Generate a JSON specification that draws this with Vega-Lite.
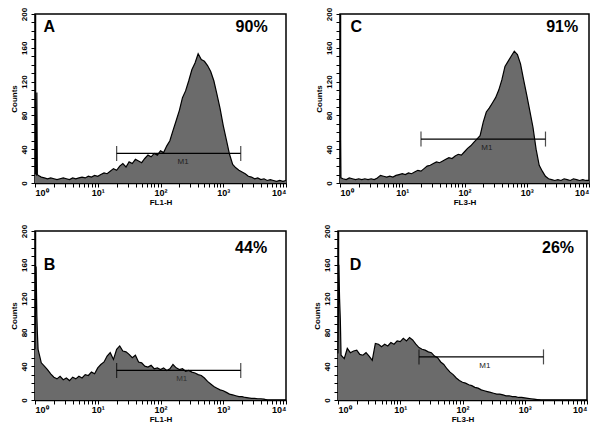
{
"$schema":"https://vega.github.io/schema/vega-lite/v6.json",
"background":"white",
"padding":{"left":9,"top":6,"right":5,"bottom":3},
"datasets":{
"A":[{"fl":1,"count":12},{"fl":1.05,"count":10},{"fl":1.07,"count":107},{"fl":1.09,"count":10},{"fl":1.12,"count":9},{"fl":1.26,"count":7},{"fl":1.41,"count":6},{"fl":1.58,"count":5},{"fl":1.78,"count":6},{"fl":2,"count":5},{"fl":2.24,"count":4},{"fl":2.51,"count":5},{"fl":2.82,"count":6},{"fl":3.16,"count":5},{"fl":3.55,"count":4},{"fl":3.98,"count":6},{"fl":4.47,"count":5},{"fl":5.01,"count":6},{"fl":5.62,"count":7},{"fl":6.31,"count":6},{"fl":7.08,"count":8},{"fl":7.94,"count":7},{"fl":8.91,"count":9},
{"fl":10,"count":8},{"fl":11.2,"count":10},{"fl":12.6,"count":12},{"fl":14.1,"count":11},{"fl":15.8,"count":14},{"fl":17.8,"count":17},{"fl":20,"count":15},{"fl":22.4,"count":20},{"fl":25.1,"count":23},{"fl":28.2,"count":19},{"fl":31.6,"count":25},{"fl":35.5,"count":23},{"fl":39.8,"count":28},{"fl":44.7,"count":26},{"fl":50.1,"count":24},{"fl":56.2,"count":29},{"fl":63.1,"count":33},{"fl":70.8,"count":31},{"fl":79.4,"count":35},{"fl":89.1,"count":33},
{"fl":100,"count":38},{"fl":112,"count":36},{"fl":126,"count":44},{"fl":141,"count":50},{"fl":158,"count":62},{"fl":178,"count":74},{"fl":200,"count":86},{"fl":224,"count":101},{"fl":251,"count":109},{"fl":282,"count":121},{"fl":316,"count":134},{"fl":355,"count":142},{"fl":398,"count":153},{"fl":447,"count":146},{"fl":501,"count":144},{"fl":562,"count":139},{"fl":631,"count":132},{"fl":708,"count":121},{"fl":794,"count":105},{"fl":891,"count":88},
{"fl":1000,"count":68},{"fl":1122,"count":51},{"fl":1259,"count":34},{"fl":1413,"count":22},{"fl":1585,"count":18},{"fl":1778,"count":15},{"fl":1995,"count":13},{"fl":2239,"count":11},{"fl":2512,"count":8},{"fl":2818,"count":7},{"fl":3162,"count":5},{"fl":3548,"count":6},{"fl":3981,"count":4},{"fl":4467,"count":5},{"fl":5012,"count":3},{"fl":5623,"count":4},{"fl":6310,"count":3},{"fl":7079,"count":2},{"fl":7943,"count":3},{"fl":8913,"count":2},{"fl":10000,"count":3}],
"C":[{"fl":1,"count":104},{"fl":1.03,"count":6},{"fl":1.12,"count":5},{"fl":1.26,"count":4},{"fl":1.41,"count":6},{"fl":1.58,"count":5},{"fl":1.78,"count":4},{"fl":2,"count":5},{"fl":2.24,"count":4},{"fl":2.51,"count":5},{"fl":2.82,"count":4},{"fl":3.16,"count":5},{"fl":3.55,"count":4},{"fl":3.98,"count":6},{"fl":4.47,"count":9},{"fl":5.01,"count":8},{"fl":5.62,"count":7},{"fl":6.31,"count":8},{"fl":7.08,"count":7},{"fl":7.94,"count":9},{"fl":8.91,"count":10},
{"fl":10,"count":11},{"fl":11.2,"count":10},{"fl":12.6,"count":12},{"fl":14.1,"count":11},{"fl":15.8,"count":13},{"fl":17.8,"count":15},{"fl":20,"count":14},{"fl":22.4,"count":17},{"fl":25.1,"count":20},{"fl":28.2,"count":21},{"fl":31.6,"count":23},{"fl":35.5,"count":25},{"fl":39.8,"count":24},{"fl":44.7,"count":26},{"fl":50.1,"count":28},{"fl":56.2,"count":30},{"fl":63.1,"count":29},{"fl":70.8,"count":32},{"fl":79.4,"count":34},{"fl":89.1,"count":33},
{"fl":100,"count":37},{"fl":112,"count":41},{"fl":126,"count":44},{"fl":141,"count":48},{"fl":158,"count":52},{"fl":178,"count":56},{"fl":200,"count":72},{"fl":224,"count":84},{"fl":251,"count":89},{"fl":282,"count":95},{"fl":316,"count":101},{"fl":355,"count":110},{"fl":398,"count":122},{"fl":447,"count":138},{"fl":501,"count":144},{"fl":562,"count":150},{"fl":631,"count":156},{"fl":708,"count":152},{"fl":794,"count":141},{"fl":891,"count":122},
{"fl":1000,"count":104},{"fl":1122,"count":85},{"fl":1259,"count":66},{"fl":1413,"count":40},{"fl":1585,"count":21},{"fl":1778,"count":14},{"fl":1995,"count":8},{"fl":2239,"count":5},{"fl":2512,"count":4},{"fl":2818,"count":3},{"fl":3162,"count":4},{"fl":3548,"count":3},{"fl":3981,"count":5},{"fl":4467,"count":4},{"fl":5012,"count":3},{"fl":5623,"count":5},{"fl":6310,"count":4},{"fl":7079,"count":3},{"fl":7943,"count":4},{"fl":8913,"count":3},{"fl":10000,"count":3}],
"B":[{"fl":1,"count":60},{"fl":1.04,"count":158},{"fl":1.07,"count":100},{"fl":1.09,"count":80},{"fl":1.12,"count":60},{"fl":1.26,"count":44},{"fl":1.41,"count":40},{"fl":1.58,"count":36},{"fl":1.78,"count":31},{"fl":2,"count":27},{"fl":2.24,"count":25},{"fl":2.51,"count":28},{"fl":2.82,"count":24},{"fl":3.16,"count":26},{"fl":3.55,"count":23},{"fl":3.98,"count":27},{"fl":4.47,"count":25},{"fl":5.01,"count":28},{"fl":5.62,"count":26},{"fl":6.31,"count":30},{"fl":7.08,"count":29},{"fl":7.94,"count":33},{"fl":8.91,"count":31},
{"fl":10,"count":38},{"fl":11.2,"count":42},{"fl":12.6,"count":45},{"fl":14.1,"count":52},{"fl":15.8,"count":56},{"fl":17.8,"count":48},{"fl":20,"count":60},{"fl":22.4,"count":64},{"fl":25.1,"count":58},{"fl":28.2,"count":57},{"fl":31.6,"count":54},{"fl":35.5,"count":50},{"fl":39.8,"count":53},{"fl":44.7,"count":45},{"fl":50.1,"count":44},{"fl":56.2,"count":40},{"fl":63.1,"count":39},{"fl":70.8,"count":41},{"fl":79.4,"count":37},{"fl":89.1,"count":38},
{"fl":100,"count":36},{"fl":112,"count":38},{"fl":126,"count":35},{"fl":141,"count":37},{"fl":158,"count":42},{"fl":178,"count":38},{"fl":200,"count":36},{"fl":224,"count":37},{"fl":251,"count":34},{"fl":282,"count":35},{"fl":316,"count":33},{"fl":355,"count":32},{"fl":398,"count":30},{"fl":447,"count":29},{"fl":501,"count":26},{"fl":562,"count":22},{"fl":631,"count":19},{"fl":708,"count":16},{"fl":794,"count":14},{"fl":891,"count":12},
{"fl":1000,"count":11},{"fl":1122,"count":9},{"fl":1259,"count":7},{"fl":1413,"count":6},{"fl":1585,"count":5},{"fl":1778,"count":4},{"fl":1995,"count":4},{"fl":2239,"count":3},{"fl":2512,"count":2.5},{"fl":2818,"count":2},{"fl":3162,"count":2},{"fl":3548,"count":1.5},{"fl":3981,"count":1.5},{"fl":4467,"count":1},{"fl":5012,"count":0}],
"D":[{"fl":1,"count":55},{"fl":1.03,"count":160},{"fl":1.06,"count":120},{"fl":1.09,"count":95},{"fl":1.12,"count":53},{"fl":1.26,"count":49},{"fl":1.41,"count":61},{"fl":1.58,"count":56},{"fl":1.78,"count":58},{"fl":2,"count":59},{"fl":2.24,"count":54},{"fl":2.51,"count":53},{"fl":2.82,"count":56},{"fl":3.16,"count":52},{"fl":3.55,"count":47},{"fl":3.98,"count":67},{"fl":4.47,"count":66},{"fl":5.01,"count":63},{"fl":5.62,"count":66},{"fl":6.31,"count":64},{"fl":7.08,"count":68},{"fl":7.94,"count":66},{"fl":8.91,"count":70},
{"fl":10,"count":69},{"fl":11.2,"count":73},{"fl":12.6,"count":70},{"fl":14.1,"count":74},{"fl":15.8,"count":71},{"fl":17.8,"count":66},{"fl":20,"count":62},{"fl":22.4,"count":60},{"fl":25.1,"count":59},{"fl":28.2,"count":57},{"fl":31.6,"count":56},{"fl":35.5,"count":52},{"fl":39.8,"count":50},{"fl":44.7,"count":45},{"fl":50.1,"count":42},{"fl":56.2,"count":37},{"fl":63.1,"count":33},{"fl":70.8,"count":30},{"fl":79.4,"count":26},{"fl":89.1,"count":23},
{"fl":100,"count":21},{"fl":112,"count":20},{"fl":126,"count":18},{"fl":141,"count":17},{"fl":158,"count":15},{"fl":178,"count":14},{"fl":200,"count":12},{"fl":224,"count":11},{"fl":251,"count":10},{"fl":282,"count":9},{"fl":316,"count":8},{"fl":355,"count":7},{"fl":398,"count":7},{"fl":447,"count":6},{"fl":501,"count":5},{"fl":562,"count":5},{"fl":631,"count":4},{"fl":708,"count":4},{"fl":794,"count":3},{"fl":891,"count":3},
{"fl":1000,"count":2.5},{"fl":1122,"count":2},{"fl":1259,"count":1.5},{"fl":1413,"count":1},{"fl":1585,"count":0.5},{"fl":1778,"count":0}]
},
"vconcat":[
{"hconcat":[
{"width":251,"height":169,"data":{"name":"A"},"layer":[
 {"mark":{"type":"area","color":"#6b6b6b","opacity":1,"line":{"color":"black","strokeWidth":1.2}},
  "encoding":{"x":{"field":"fl","type":"quantitative","scale":{"type":"log","domain":[1,10000],"nice":false},"axis":{"title":"FL1-H","tickCount":100,"values":[1,2,3,4,5,6,7,8,9,10,20,30,40,50,60,70,80,90,100,200,300,400,500,600,700,800,900,1000,2000,3000,4000,5000,6000,7000,8000,9000,10000],"labelExpr":"datum.value == 1 ? '10⁰' : datum.value == 10 ? '10¹' : datum.value == 100 ? '10²' : datum.value == 1000 ? '10³' : datum.value == 10000 ? '10⁴' : ''"}},
   "y":{"field":"count","type":"quantitative","scale":{"domain":[0,200],"nice":false},"axis":{"title":"Counts","tickCount":100,"values":[0,10,20,30,40,50,60,70,80,90,100,110,120,130,140,150,160,170,180,190,200],"labelExpr":"datum.value % 40 == 0 ? datum.label : ''"}}}},
 {"data":{"values":[{"fl":20,"count":35},{"fl":1900,"count":35}]},"mark":{"type":"line","color":"black","strokeWidth":1.2},"encoding":{"x":{"field":"fl","type":"quantitative"},"y":{"field":"count","type":"quantitative"}}},
 {"data":{"values":[{"fl":20,"count":35},{"fl":1900,"count":35}]},"mark":{"type":"tick","orient":"vertical","size":15,"thickness":1.2,"color":"black"},"encoding":{"x":{"field":"fl","type":"quantitative"},"y":{"field":"count","type":"quantitative"}}},
 {"data":{"values":[{}]},"mark":{"type":"text","text":"M1","fontSize":8,"font":"Liberation Sans","color":"#222","baseline":"top"},"encoding":{"x":{"datum":229},"y":{"datum":29}}},
 {"data":{"values":[{}]},"mark":{"type":"text","text":"A","fontSize":16,"fontWeight":"bold","font":"Liberation Sans","color":"black","align":"left","baseline":"top"},"encoding":{"x":{"datum":1.37},"y":{"datum":194}}},
 {"data":{"values":[{}]},"mark":{"type":"text","text":"90%","fontSize":16,"fontWeight":"bold","font":"Liberation Sans","color":"black","align":"right","baseline":"top"},"encoding":{"x":{"datum":5100},"y":{"datum":194}}}
]},
{"width":249,"height":169,"data":{"name":"C"},"layer":[
 {"mark":{"type":"area","color":"#6b6b6b","opacity":1,"line":{"color":"black","strokeWidth":1.2}},
  "encoding":{"x":{"field":"fl","type":"quantitative","scale":{"type":"log","domain":[1,10000],"nice":false},"axis":{"title":"FL3-H","tickCount":100,"values":[1,2,3,4,5,6,7,8,9,10,20,30,40,50,60,70,80,90,100,200,300,400,500,600,700,800,900,1000,2000,3000,4000,5000,6000,7000,8000,9000,10000],"labelExpr":"datum.value == 1 ? '10⁰' : datum.value == 10 ? '10¹' : datum.value == 100 ? '10²' : datum.value == 1000 ? '10³' : datum.value == 10000 ? '10⁴' : ''"}},
   "y":{"field":"count","type":"quantitative","scale":{"domain":[0,200],"nice":false},"axis":{"title":"Counts","tickCount":100,"values":[0,10,20,30,40,50,60,70,80,90,100,110,120,130,140,150,160,170,180,190,200],"labelExpr":"datum.value % 40 == 0 ? datum.label : ''"}}}},
 {"data":{"values":[{"fl":20,"count":52},{"fl":2000,"count":52}]},"mark":{"type":"line","color":"black","strokeWidth":1.2},"encoding":{"x":{"field":"fl","type":"quantitative"},"y":{"field":"count","type":"quantitative"}}},
 {"data":{"values":[{"fl":20,"count":52},{"fl":2000,"count":52}]},"mark":{"type":"tick","orient":"vertical","size":15,"thickness":1.2,"color":"black"},"encoding":{"x":{"field":"fl","type":"quantitative"},"y":{"field":"count","type":"quantitative"}}},
 {"data":{"values":[{}]},"mark":{"type":"text","text":"M1","fontSize":8,"font":"Liberation Sans","color":"#222","baseline":"top"},"encoding":{"x":{"datum":229},"y":{"datum":46}}},
 {"data":{"values":[{}]},"mark":{"type":"text","text":"C","fontSize":16,"fontWeight":"bold","font":"Liberation Sans","color":"black","align":"left","baseline":"top"},"encoding":{"x":{"datum":1.48},"y":{"datum":194}}},
 {"data":{"values":[{}]},"mark":{"type":"text","text":"91%","fontSize":16,"fontWeight":"bold","font":"Liberation Sans","color":"black","align":"right","baseline":"top"},"encoding":{"x":{"datum":6700},"y":{"datum":194}}}
]}
],"spacing":24},
{"hconcat":[
{"width":251,"height":169,"data":{"name":"B"},"layer":[
 {"mark":{"type":"area","color":"#6b6b6b","opacity":1,"line":{"color":"black","strokeWidth":1.2}},
  "encoding":{"x":{"field":"fl","type":"quantitative","scale":{"type":"log","domain":[1,10000],"nice":false},"axis":{"title":"FL1-H","tickCount":100,"values":[1,2,3,4,5,6,7,8,9,10,20,30,40,50,60,70,80,90,100,200,300,400,500,600,700,800,900,1000,2000,3000,4000,5000,6000,7000,8000,9000,10000],"labelExpr":"datum.value == 1 ? '10⁰' : datum.value == 10 ? '10¹' : datum.value == 100 ? '10²' : datum.value == 1000 ? '10³' : datum.value == 10000 ? '10⁴' : ''"}},
   "y":{"field":"count","type":"quantitative","scale":{"domain":[0,200],"nice":false},"axis":{"title":"Counts","tickCount":100,"values":[0,10,20,30,40,50,60,70,80,90,100,110,120,130,140,150,160,170,180,190,200],"labelExpr":"datum.value % 40 == 0 ? datum.label : ''"}}}},
 {"data":{"values":[{"fl":20,"count":35},{"fl":1900,"count":35}]},"mark":{"type":"line","color":"black","strokeWidth":1.2},"encoding":{"x":{"field":"fl","type":"quantitative"},"y":{"field":"count","type":"quantitative"}}},
 {"data":{"values":[{"fl":20,"count":35},{"fl":1900,"count":35}]},"mark":{"type":"tick","orient":"vertical","size":15,"thickness":1.2,"color":"black"},"encoding":{"x":{"field":"fl","type":"quantitative"},"y":{"field":"count","type":"quantitative"}}},
 {"data":{"values":[{}]},"mark":{"type":"text","text":"M1","fontSize":8,"font":"Liberation Sans","color":"#333","baseline":"top"},"encoding":{"x":{"datum":218},"y":{"datum":29}}},
 {"data":{"values":[{}]},"mark":{"type":"text","text":"B","fontSize":16,"fontWeight":"bold","font":"Liberation Sans","color":"black","align":"left","baseline":"top"},"encoding":{"x":{"datum":1.38},"y":{"datum":169}}},
 {"data":{"values":[{}]},"mark":{"type":"text","text":"44%","fontSize":16,"fontWeight":"bold","font":"Liberation Sans","color":"black","align":"right","baseline":"top"},"encoding":{"x":{"datum":5000},"y":{"datum":189}}}
]},
{"width":249,"height":169,"data":{"name":"D"},"layer":[
 {"mark":{"type":"area","color":"#6b6b6b","opacity":1,"line":{"color":"black","strokeWidth":1.2}},
  "encoding":{"x":{"field":"fl","type":"quantitative","scale":{"type":"log","domain":[1,10000],"nice":false},"axis":{"title":"FL3-H","tickCount":100,"values":[1,2,3,4,5,6,7,8,9,10,20,30,40,50,60,70,80,90,100,200,300,400,500,600,700,800,900,1000,2000,3000,4000,5000,6000,7000,8000,9000,10000],"labelExpr":"datum.value == 1 ? '10⁰' : datum.value == 10 ? '10¹' : datum.value == 100 ? '10²' : datum.value == 1000 ? '10³' : datum.value == 10000 ? '10⁴' : ''"}},
   "y":{"field":"count","type":"quantitative","scale":{"domain":[0,200],"nice":false},"axis":{"title":"Counts","tickCount":100,"values":[0,10,20,30,40,50,60,70,80,90,100,110,120,130,140,150,160,170,180,190,200],"labelExpr":"datum.value % 40 == 0 ? datum.label : ''"}}}},
 {"data":{"values":[{"fl":20,"count":51},{"fl":2000,"count":51}]},"mark":{"type":"line","color":"black","strokeWidth":1.2},"encoding":{"x":{"field":"fl","type":"quantitative"},"y":{"field":"count","type":"quantitative"}}},
 {"data":{"values":[{"fl":20,"count":51},{"fl":2000,"count":51}]},"mark":{"type":"tick","orient":"vertical","size":15,"thickness":1.2,"color":"black"},"encoding":{"x":{"field":"fl","type":"quantitative"},"y":{"field":"count","type":"quantitative"}}},
 {"data":{"values":[{}]},"mark":{"type":"text","text":"M1","fontSize":8,"font":"Liberation Sans","color":"#222","baseline":"top"},"encoding":{"x":{"datum":228},"y":{"datum":45}}},
 {"data":{"values":[{}]},"mark":{"type":"text","text":"D","fontSize":16,"fontWeight":"bold","font":"Liberation Sans","color":"black","align":"left","baseline":"top"},"encoding":{"x":{"datum":1.55},"y":{"datum":169}}},
 {"data":{"values":[{}]},"mark":{"type":"text","text":"26%","fontSize":16,"fontWeight":"bold","font":"Liberation Sans","color":"black","align":"right","baseline":"top"},"encoding":{"x":{"datum":6200},"y":{"datum":189}}}
]}
],"spacing":24}
],
"spacing":16,
"config":{
 "view":{"stroke":"black","strokeWidth":1.5},
 "axis":{"grid":false,"domainColor":"black","domainWidth":1.5,"tickColor":"black","labelColor":"black","titleColor":"black","labelFont":"Liberation Sans","titleFont":"Liberation Sans","labelFontWeight":"bold","titleFontWeight":"bold","labelOverlap":false,"tickSize":4},
 "axisX":{"labelFontSize":9,"titleFontSize":8,"labelPadding":1,"titlePadding":1},
 "axisY":{"labelFontSize":8,"titleFontSize":8,"labelAngle":-90,"labelPadding":3,"titlePadding":2}
}
}
